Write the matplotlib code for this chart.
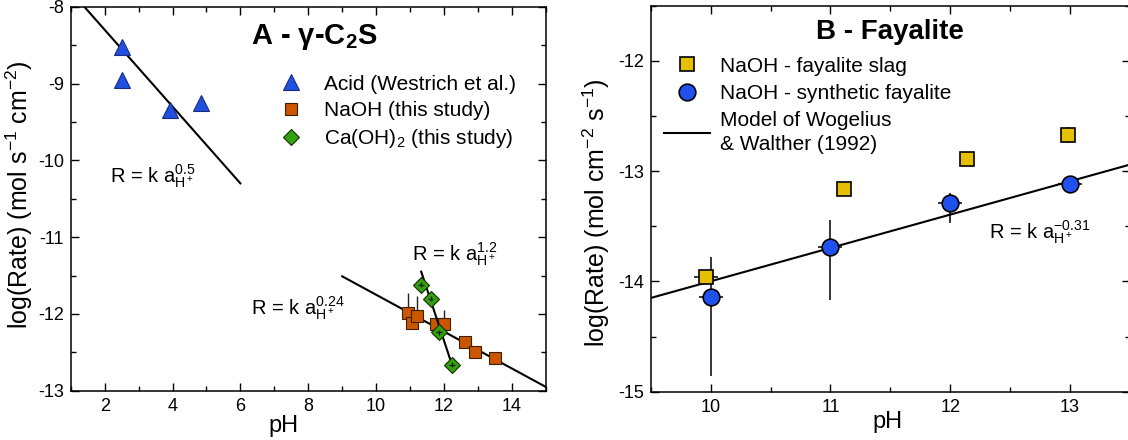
#
# dissolution rates vs pH: gamma-C2S (A) and fayalite (B)
#

import numpy as np
import matplotlib as mpl
import matplotlib.pyplot as plt
from matplotlib.lines import Line2D

mpl.rcParams['font.family'] = ['Liberation Sans', 'DejaVu Sans']
mpl.rcParams['mathtext.fontset'] = 'custom'
mpl.rcParams['mathtext.rm'] = 'Liberation Sans'
mpl.rcParams['mathtext.it'] = 'Liberation Sans'
mpl.rcParams['mathtext.bf'] = 'Liberation Sans:bold'
mpl.rcParams['mathtext.default'] = 'regular'
mpl.rcParams['axes.unicode_minus'] = False

# ---- panel A data
acid_ph = [2.5, 2.5, 3.92, 4.85]
acid_rate = [-8.52, -8.95, -9.35, -9.25]

naoh_ph = [10.93, 11.07, 11.20, 11.77, 12.01, 12.62, 12.92, 13.50]
naoh_rate = [-11.99, -12.12, -12.03, -12.13, -12.13, -12.37, -12.49, -12.58]
naoh_err_lo = [0.04, 0.04, 0.04, 0.04, 0.04, 0.04, 0.04, 0.03]
naoh_err_hi = [0.26, 0.04, 0.26, 0.04, 0.18, 0.08, 0.06, 0.03]

caoh_ph = [11.33, 11.61, 11.85, 12.24]
caoh_rate = [-11.62, -11.80, -12.24, -12.66]

acid_fit_x = [1.4, 6.0]
acid_fit_y = [-8.0, -10.3]
naoh_fit_x = [9.0, 15.0]
naoh_fit_y = [-11.51, -12.95]
caoh_fit_x = [11.33, 12.25]
caoh_fit_y = [-11.45, -12.68]

# ---- panel B data
slag_ph = [9.96, 11.11, 12.14, 12.98]
slag_rate = [-13.96, -13.16, -12.89, -12.67]
slag_xerr = [0.1, 0.03, 0.03, 0.03]
slag_yerr = [0.05, 0.03, 0.03, 0.07]

syn_ph = [10.0, 11.0, 12.0, 13.0]
syn_rate = [-14.14, -13.69, -13.29, -13.12]
syn_xerr = [0.1, 0.1, 0.1, 0.1]
syn_err_lo = [0.72, 0.48, 0.18, 0.03]
syn_err_hi = [0.36, 0.25, 0.09, 0.03]

model_x = [9.5, 13.5]
model_y = [-14.15, -12.94]

fig = plt.figure(figsize=(11.28, 4.4), dpi=100)

def style_axes(ax):
    ax.tick_params(which='both', direction='in', top=True, right=True, labelsize=13, pad=5)
    ax.tick_params(which='major', length=6, width=1)
    ax.tick_params(which='minor', length=3.5, width=1)
    for s in ax.spines.values():
        s.set_linewidth(1.1)

# ---------------- A
ax1 = fig.add_axes([0.0627, 0.112, 0.4211, 0.8727])
ax1.plot(acid_fit_x, acid_fit_y, color='black', lw=1.5, zorder=2)
ax1.plot(naoh_fit_x, naoh_fit_y, color='black', lw=1.5, zorder=2)
ax1.plot(caoh_fit_x, caoh_fit_y, color='black', lw=1.5, zorder=4)

ax1.plot(acid_ph, acid_rate, '^', ms=11, mfc='#2050E0', mec='#1a2a80', mew=0.8, ls='none', zorder=3)
ax1.errorbar(naoh_ph, naoh_rate, yerr=[naoh_err_lo, naoh_err_hi], xerr=0.05,
             fmt='s', ms=9, mfc='#CC5500', mec='#3a2000', mew=0.8,
             ecolor='#222222', elinewidth=1.0, capsize=0, zorder=3)
ax1.plot(caoh_ph, caoh_rate, 'D', ms=8.5, mfc='#33A010', mec='#103000', mew=0.8, ls='none', zorder=5)
ax1.errorbar(caoh_ph, caoh_rate, yerr=0.03, xerr=0.08, fmt='none',
             ecolor='#222222', elinewidth=1.0, capsize=0, zorder=6)

ax1.set_xlim(1, 15)
ax1.set_ylim(-13, -8)
ax1.set_xticks([2, 4, 6, 8, 10, 12, 14])
ax1.set_xticks(np.arange(1, 16, 1), minor=True)
ax1.set_yticks([-13, -12, -11, -10, -9, -8])
ax1.set_yticks(np.arange(-13, -7.9, 0.5), minor=True)
style_axes(ax1)
ax1.set_xlabel('pH', fontsize=17)
ax1.xaxis.set_label_coords(0.447, -0.062)
ax1.set_ylabel('log(Rate) (mol s$^{-1}$ cm$^{-2}$)', fontsize=18)
ax1.yaxis.set_label_coords(-0.075, 0.51)

ax1.text(0.38, 0.92, 'A - γ-C$_\\mathbf{2}$S', transform=ax1.transAxes,
         fontsize=21, fontweight='bold', va='center')
ax1.text(2.15, -10.2, 'R = k a$^{0.5}_{H^+}$', fontsize=14.5, va='center')
ax1.text(6.3, -11.92, 'R = k a$^{0.24}_{H^+}$', fontsize=14.5, va='center')
ax1.text(11.05, -11.22, 'R = k a$^{1.2}_{H^+}$', fontsize=14.5, va='center')

leg1_handles = [
    Line2D([], [], marker='^', ls='none', ms=11, mfc='#2050E0', mec='#1a2a80', mew=0.8),
    Line2D([], [], marker='s', ls='none', ms=8, mfc='#CC5500', mec='#3a2000', mew=0.8),
    Line2D([], [], marker='D', ls='none', ms=8, mfc='#33A010', mec='#103000', mew=0.8),
]
leg1_labels = ['Acid (Westrich et al.)', 'NaOH (this study)', 'Ca(OH)$_2$ (this study)']
ax1.legend(leg1_handles, leg1_labels, loc='upper left', bbox_to_anchor=(0.42, 0.845),
           frameon=False, fontsize=15, handlelength=1.2, handletextpad=1.0,
           labelspacing=0.35, borderaxespad=0)

# ---------------- B
ax2 = fig.add_axes([0.5769, 0.1098, 0.4249, 0.877])
ax2.plot(model_x, model_y, color='black', lw=1.5, zorder=2)
ax2.errorbar(syn_ph, syn_rate, yerr=[syn_err_lo, syn_err_hi], xerr=syn_xerr,
             fmt='o', ms=12, mfc='#2050EE', mec='black', mew=1.2,
             ecolor='black', elinewidth=1.1, capsize=0, zorder=3)
ax2.errorbar(slag_ph, slag_rate, yerr=slag_yerr, xerr=slag_xerr,
             fmt='s', ms=9.5, mfc='#E6C000', mec='black', mew=1.2,
             ecolor='black', elinewidth=1.1, capsize=0, zorder=3)

ax2.set_xlim(9.5, 13.5)
ax2.set_ylim(-15, -11.5)
ax2.set_xticks([10, 11, 12, 13])
ax2.set_xticks(np.arange(9.5, 13.6, 0.5), minor=True)
ax2.set_yticks([-15, -14, -13, -12])
ax2.set_yticks(np.arange(-15, -11.4, 0.5), minor=True)
style_axes(ax2)
ax2.set_xlabel('pH', fontsize=17)
ax2.xaxis.set_label_coords(0.495, -0.049)
ax2.set_ylabel('log(Rate) (mol cm$^{-2}$ s$^{-1}$)', fontsize=18)
ax2.yaxis.set_label_coords(-0.081, 0.465)

ax2.text(0.5, 0.932, 'B - Fayalite', transform=ax2.transAxes,
         fontsize=20, fontweight='bold', ha='center', va='center')
ax2.text(12.32, -13.55, 'R = k a$^{-0.31}_{H^+}$', fontsize=14.5, va='center')

leg2_handles = [
    Line2D([], [], marker='s', ls='none', ms=10, mfc='#E6C000', mec='black', mew=1.2),
    Line2D([], [], marker='o', ls='none', ms=12, mfc='#2050EE', mec='black', mew=1.2),
    Line2D([], [], color='black', lw=1.5),
]
leg2_labels = ['NaOH - fayalite slag', 'NaOH - synthetic fayalite',
               'Model of Wogelius\n& Walther (1992)']
leg2 = ax2.legend(leg2_handles, leg2_labels, loc='upper left', bbox_to_anchor=(0.01, 0.89),
                  frameon=False, fontsize=15, handlelength=2.2, handletextpad=0.5,
                  labelspacing=0.4, borderaxespad=0)
leg2.get_texts()[2].set_linespacing(1.3)

fig.savefig('out.png', dpi=100)
